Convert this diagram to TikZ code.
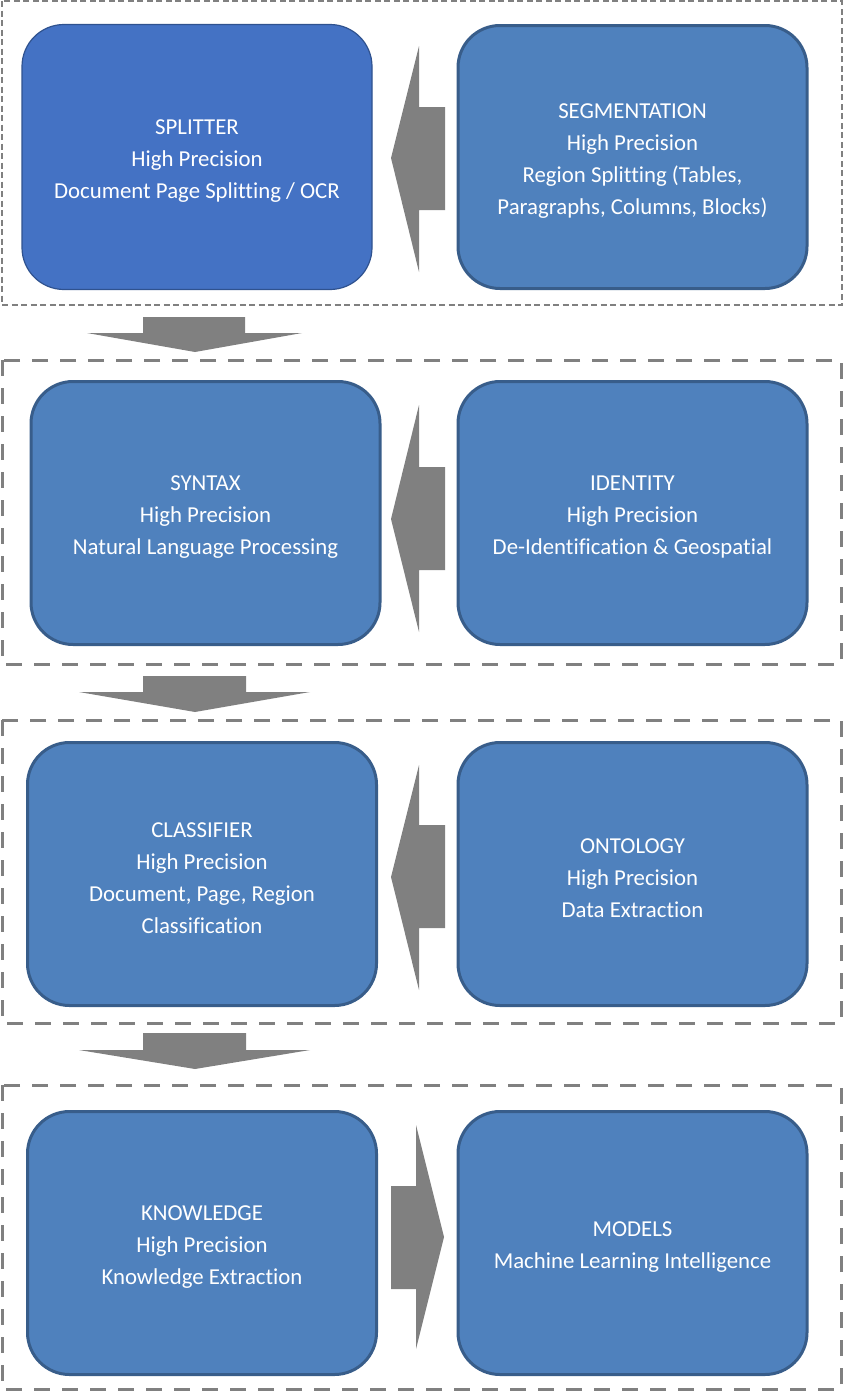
\documentclass[tikz,border=0pt]{standalone}
\usepackage{fontspec}
\setmainfont[Ligatures={NoCommon}]{Carlito}
\newcommand{\topstrut}{\rule{0pt}{23pt}}
\begin{document}
\begin{tikzpicture}[x=1pt,y=-1pt,
  boxA/.style={draw=splitborder, line width=1.2pt, fill=splitfill, rounded corners=42pt,
    minimum width=350pt, minimum height=265pt, align=center, text=white,
    font=\fontsize{22.8}{32}\selectfont, inner sep=0pt},
  boxB/.style={draw=boxborder, line width=3pt, fill=boxfill, rounded corners=42pt,
    minimum width=349pt, minimum height=263pt, align=center, text=white,
    font=\fontsize{22.8}{32}\selectfont, inner sep=0pt},
  grpthin/.style={draw=dashgray, line width=1.5pt, dash pattern=on 6pt off 3.5pt},
  grpthick/.style={draw=dashgray, line width=3pt, dash pattern=on 16pt off 12pt},
  blockarrow/.style={fill=arrowgray, draw=none}
]
\definecolor{splitfill}{HTML}{4472C4}
\definecolor{splitborder}{HTML}{2F528F}
\definecolor{boxfill}{HTML}{4F81BD}
\definecolor{boxborder}{HTML}{385D8A}
\definecolor{dashgray}{HTML}{808080}
\definecolor{arrowgray}{HTML}{808080}

\useasboundingbox (0,0) rectangle (844,1392);

% group frames
\draw[grpthin] (2,1) rectangle (842,305);
\draw[grpthick] (2,360) rectangle (841,664);
\draw[grpthick] (2,720) rectangle (841,1023);
\draw[grpthick] (2,1085) rectangle (841,1389);

% boxes
\node[boxA] (splitter) at (197,157) {\topstrut SPLITTER\\High Precision\\Document Page Splitting / OCR};
\node[boxB] (segment) at (632.5,157) {\topstrut SEGMENTATION\\High Precision\\Region Splitting (Tables,\\Paragraphs, Columns, Blocks)};

\node[boxB] (syntax) at (205.5,513) {\topstrut SYNTAX\\High Precision\\Natural Language Processing};
\node[boxB] (identity) at (632.5,513) {\topstrut IDENTITY\\High Precision\\De-Identification \& Geospatial};

\node[boxB] (classifier) at (202,874) {\topstrut CLASSIFIER\\High Precision\\Document, Page, Region\\Classification};
\node[boxB] (ontology) at (632.5,874) {\topstrut ONTOLOGY\\High Precision\\Data Extraction};

\node[boxB] (knowledge) at (202,1243) {\topstrut KNOWLEDGE\\High Precision\\Knowledge Extraction};
\node[boxB] (models) at (632.5,1243) {\topstrut MODELS\\Machine Learning Intelligence};

% left-pointing block arrows
\fill[blockarrow] (391,158) -- (419,46) -- (419,107) -- (445,107) -- (445,210) -- (419,210) -- (419,272) -- cycle;
\fill[blockarrow] (391,519) -- (419,405) -- (419,467) -- (445,467) -- (445,570) -- (419,570) -- (419,632) -- cycle;
\fill[blockarrow] (391,877) -- (419,765) -- (419,825) -- (445,825) -- (445,928) -- (419,928) -- (419,990) -- cycle;
% right-pointing block arrow
\fill[blockarrow] (444,1237) -- (416,1125) -- (416,1186) -- (391,1186) -- (391,1289) -- (416,1289) -- (416,1349) -- cycle;

% down block arrows
\fill[blockarrow] (143,317) -- (245,317) -- (245,333) -- (302,333) -- (195,352) -- (87,333) -- (143,333) -- cycle;
\fill[blockarrow] (143,676) -- (246,676) -- (246,692) -- (310,692) -- (195,712) -- (79,692) -- (143,692) -- cycle;
\fill[blockarrow] (143,1033) -- (246,1033) -- (246,1050) -- (310,1050) -- (195,1069) -- (79,1050) -- (143,1050) -- cycle;
\end{tikzpicture}
\end{document}
